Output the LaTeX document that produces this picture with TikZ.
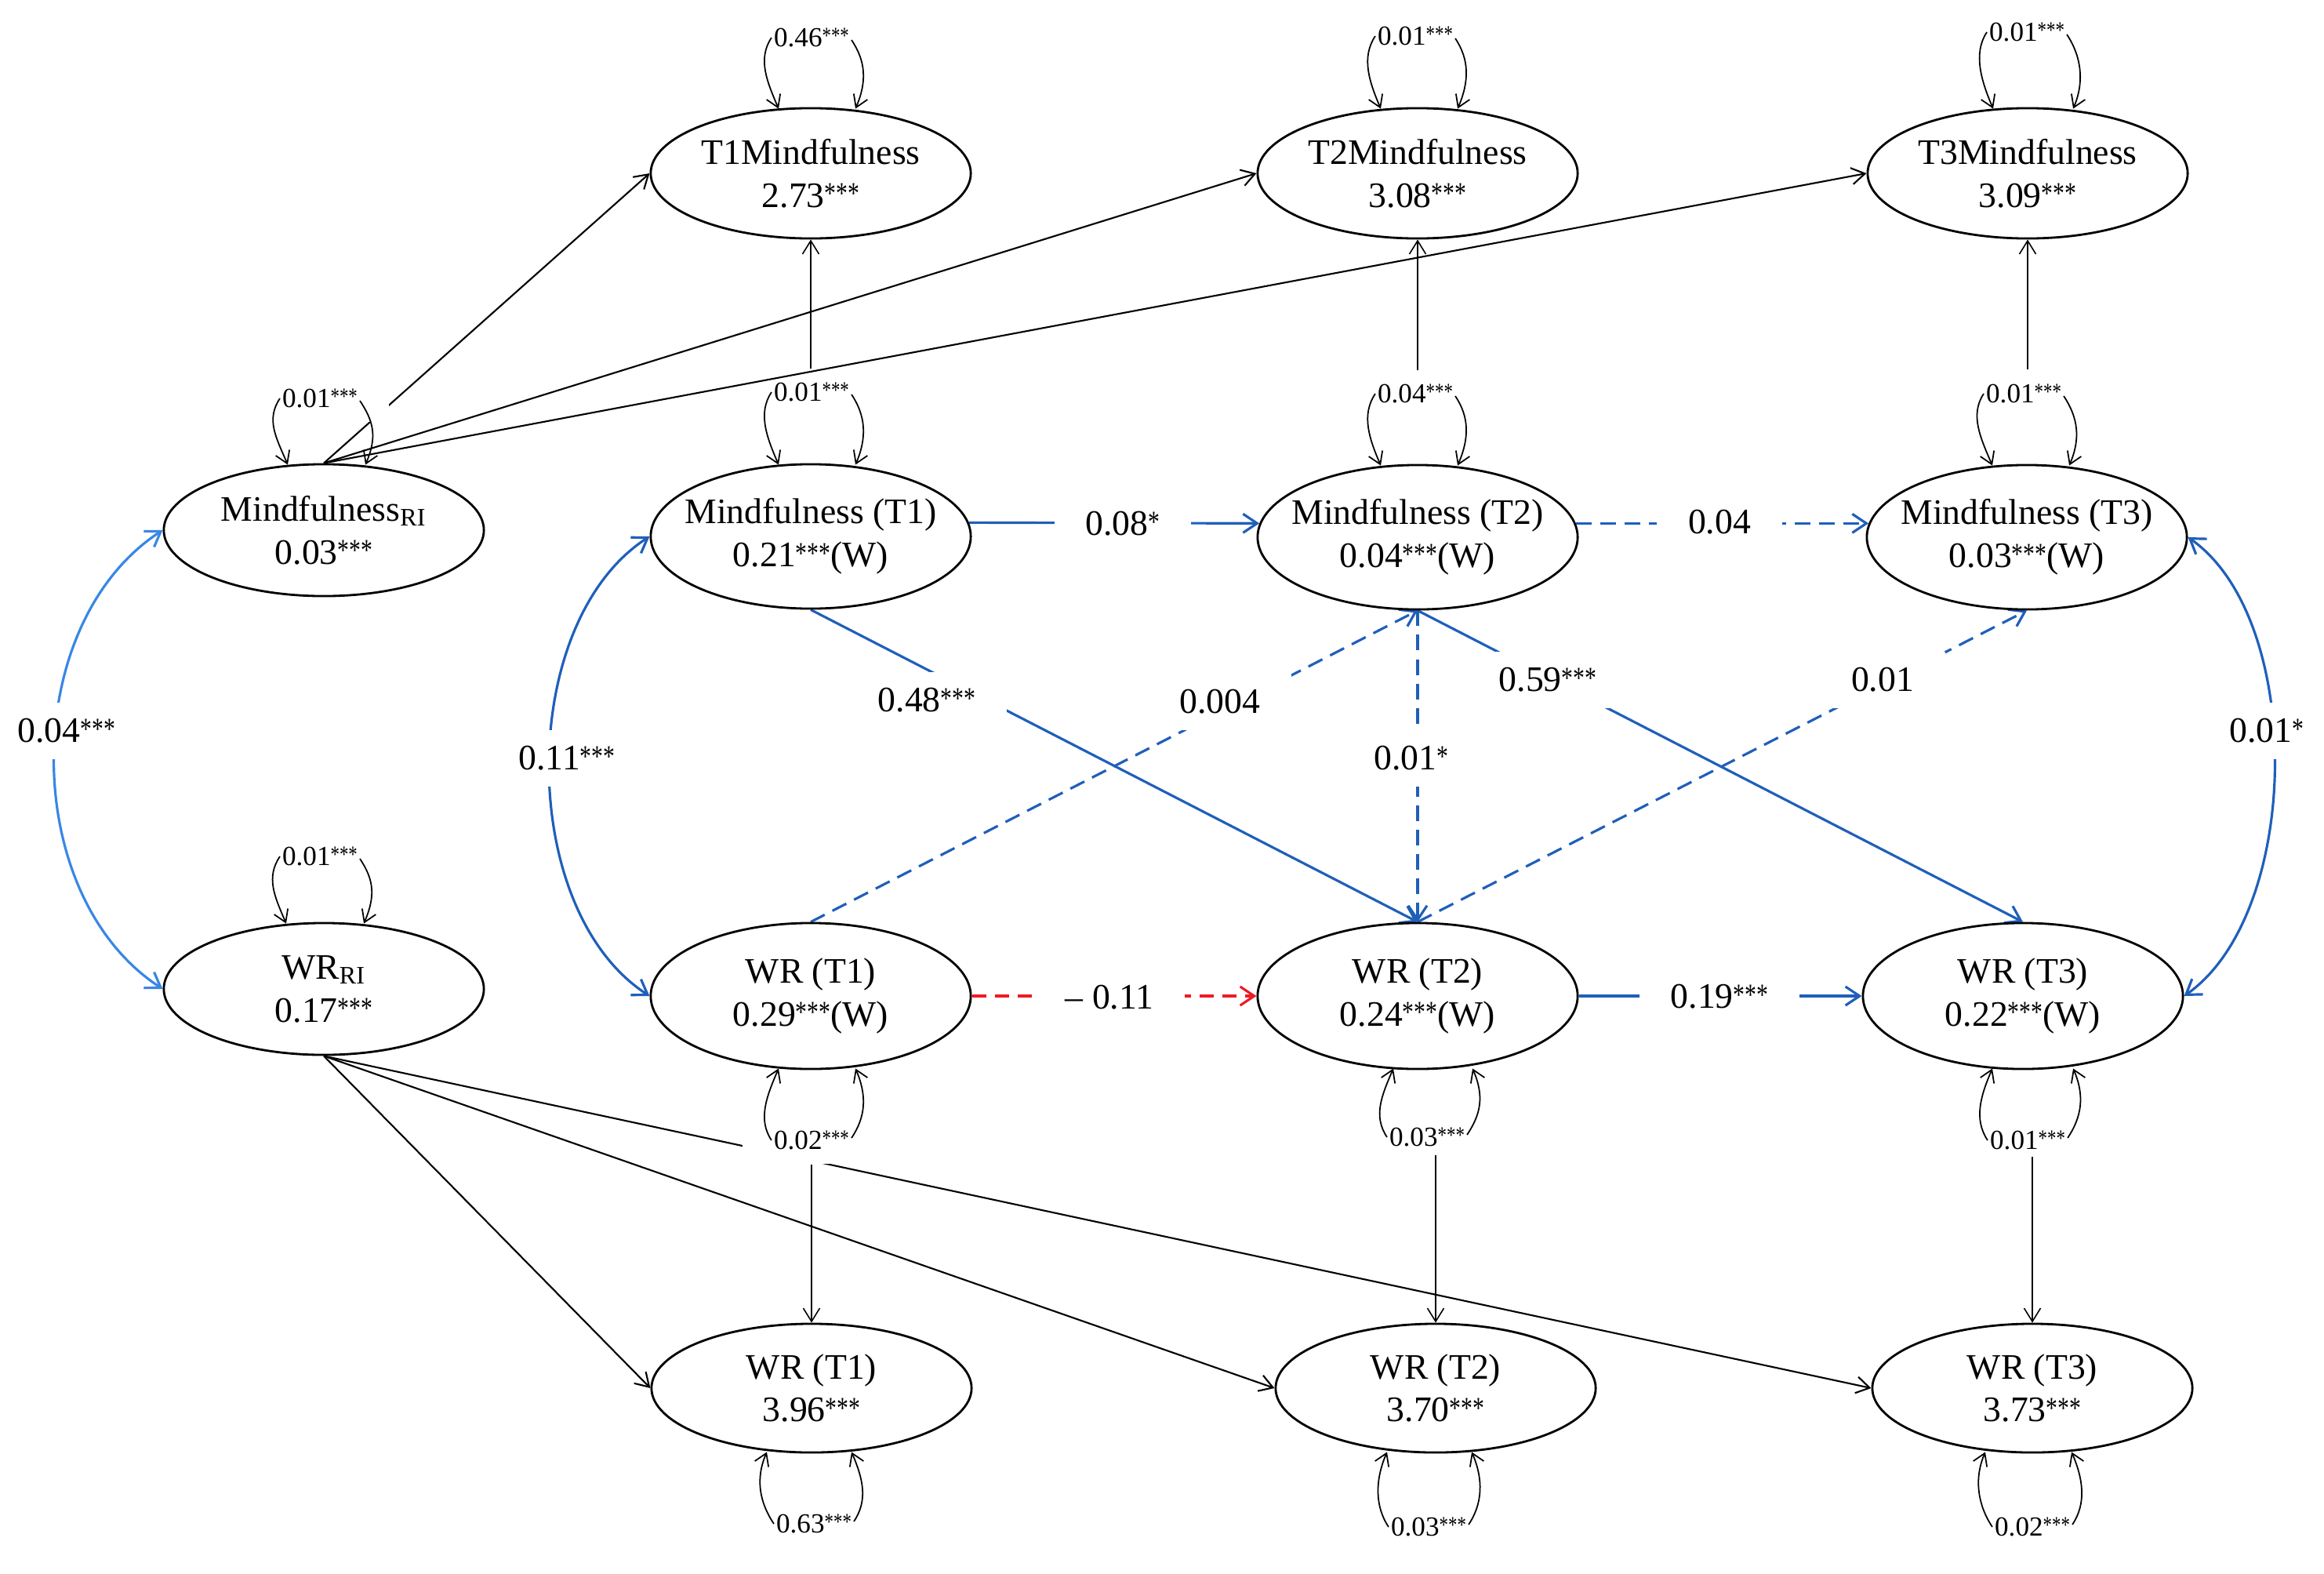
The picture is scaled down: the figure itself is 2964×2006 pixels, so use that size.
\documentclass[tikz,border=0pt]{standalone}
\usepackage{fontspec}
\setmainfont{Liberation Serif}
\usepackage{graphicx}
\usetikzlibrary{arrows.meta,shapes.geometric}
\pgfdeclarelayer{bg}
\pgfsetlayers{bg,main}
\definecolor{bdark}{RGB}{31,95,186}
\definecolor{blight}{RGB}{56,135,228}
\definecolor{rdash}{RGB}{238,28,36}
\newcommand\sg[1]{\raisebox{0.1em}{\scalebox{0.65}[0.85]{#1}}}
\newcommand\nodefont{\fontsize{13}{15.6}\selectfont}
\newcommand\loopfont{\fontsize{10}{12}\selectfont}
\tikzset{
 lat/.style={ellipse, draw, line width=0.8pt, fill=white, minimum width=4.08cm, minimum height=#1, inner xsep=-3mm, inner ysep=0pt, align=center, font=\nodefont},
 elab/.style={fill=white, inner xsep=4mm, inner ysep=2mm, font=\nodefont},
 vlab/.style={fill=white, inner xsep=0.5mm, inner ysep=0.2mm, font=\loopfont},
 wide/.style={inner xsep=4mm, inner ysep=1.8mm},
 vloop/.style={line width=0.5pt, -{Straight Barb[length=1.5mm,width=1.9mm]}},
 blk/.style={line width=0.6pt, -{Straight Barb[length=1.7mm,width=2.1mm]}},
 blkthin/.style={line width=0.45pt, -{Straight Barb[length=1.7mm,width=2.1mm]}},
 bsol/.style={bdark, line width=0.9pt, -{Straight Barb[length=1.8mm,width=2.4mm]}},
 bdsh/.style={bsol, dash pattern=on 2mm off 1.1mm},
 rdsh/.style={rdash, line width=0.9pt, dash pattern=on 1.8mm off 1.1mm, -{Straight Barb[length=1.8mm,width=2.4mm]}},
 bcov/.style={line width=0.9pt, {Straight Barb[length=1.8mm,width=2.4mm]}-{Straight Barb[length=1.8mm,width=2.4mm]}},
}
% [#1 label options] #2 ellipse node, #3 label name, #4 label position, #5 text, #6/#7 x offsets (mm)
\newcommand\looptop[7][]{%
  \node[vlab,#1] (#3) at (#4) {#5};
  \draw[vloop] ([xshift=-5.1mm]#3.center) .. controls +(-18,27) and +(-15,-35) .. ([xshift=#6mm,yshift=-0.2mm]#2.north);
  \draw[vloop] ([xshift=5.1mm,yshift=-0.3mm]#3.center) .. controls +(18,27) and +(15,-35) .. ([xshift=#7mm,yshift=-0.2mm]#2.north);
}
\newcommand\loopbot[7][]{%
  \node[vlab,#1] (#3) at (#4) {#5};
  \draw[vloop] ([xshift=-5.1mm]#3.center) .. controls +(-18,-27) and +(-15,35) .. ([xshift=#6mm,yshift=0.2mm]#2.south);
  \draw[vloop] ([xshift=5.1mm,yshift=0.3mm]#3.center) .. controls +(18,-27) and +(15,35) .. ([xshift=#7mm,yshift=0.2mm]#2.south);
}
\begin{document}
\begin{tikzpicture}[x=0.01cm,y=-0.01cm]
\useasboundingbox (0,0) rectangle (2964,2006);
% latent / observed ellipses
\node[lat=1.66cm] (t1) at (1034,221) {T1Mindfulness\\2.73\sg{***}};
\node[lat=1.66cm] (t2) at (1808,221) {T2Mindfulness\\3.08\sg{***}};
\node[lat=1.66cm] (t3) at (2586,221) {T3Mindfulness\\3.09\sg{***}};
\node[lat=1.68cm] (mri) at (413,676) {Mindfulness\textsubscript{RI}\\0.03\sg{***}};
\node[lat=1.84cm] (m1) at (1034,684) {Mindfulness (T1)\\0.21\sg{***}(W)};
\node[lat=1.84cm] (m2) at (1808,685) {Mindfulness (T2)\\0.04\sg{***}(W)};
\node[lat=1.84cm] (m3) at (2585,685) {Mindfulness (T3)\\0.03\sg{***}(W)};
\node[lat=1.68cm] (wri) at (413,1261) {WR\textsubscript{RI}\\0.17\sg{***}};
\node[lat=1.86cm] (w1) at (1034,1270) {WR (T1)\\0.29\sg{***}(W)};
\node[lat=1.86cm] (w2) at (1808,1270) {WR (T2)\\0.24\sg{***}(W)};
\node[lat=1.86cm] (w3) at (2580,1270) {WR (T3)\\0.22\sg{***}(W)};
\node[lat=1.64cm] (b1) at (1035,1770) {WR (T1)\\3.96\sg{***}};
\node[lat=1.64cm] (b2) at (1831,1770) {WR (T2)\\3.70\sg{***}};
\node[lat=1.64cm] (b3) at (2592,1770) {WR (T3)\\3.73\sg{***}};
% variance loops
\looptop{t1}{lt1}{1035,48}{0.46\sg{***}}{-4.1}{5.7}
\looptop{t2}{lt2}{1805,46}{0.01\sg{***}}{-4.7}{5.1}
\looptop{t3}{lt3}{2585,41}{0.01\sg{***}}{-4.4}{5.8}
\looptop[wide]{mri}{lmri}{408,508}{0.01\sg{***}}{-4.6}{5.3}
\looptop{m1}{lm1}{1035,500}{0.01\sg{***}}{-4.1}{5.7}
\looptop{m2}{lm2}{1805,502}{0.04\sg{***}}{-4.7}{5.1}
\looptop{m3}{lm3}{2581,502}{0.01\sg{***}}{-4.4}{5.4}
\looptop{wri}{lwri}{408,1092}{0.01\sg{***}}{-4.8}{5.1}
\loopbot[wide]{w1}{lw1}{1035,1454}{0.02\sg{***}}{-4.1}{5.7}
\loopbot{w2}{lw2}{1820,1450}{0.03\sg{***}}{-3.1}{7.0}
\loopbot{w3}{lw3}{2586,1454}{0.01\sg{***}}{-3.9}{6.4}
\loopbot{b1}{lb1}{1038,1943}{0.63\sg{***}}{-5.7}{5.1}
\loopbot{b2}{lb2}{1822,1947}{0.03\sg{***}}{-6.2}{4.6}
\loopbot{b3}{lb3}{2592,1947}{0.02\sg{***}}{-6.0}{5.0}
% path labels
\node[elab] (e1) at (85,932) {0.04\sg{***}};
\node[elab] (e2) at (723,967) {0.11\sg{***}};
\node[elab] (e3) at (1432,668) {0.08\sg{*}};
\node[elab] (e4) at (2193,666) {0.04};
\node[elab] (e5) at (1182,893) {0.48\sg{***}};
\node[elab] (e6) at (1556,895) {0.004};
\node[elab] (e7) at (1974,867) {0.59\sg{***}};
\node[elab] (e8) at (2401,867) {0.01};
\node[elab] (e9) at (1800,967) {0.01\sg{*}};
\node[elab] (e10) at (2891,932) {0.01\sg{*}};
\node[elab] (e11) at (1415,1272) {– 0.11};
\node[elab] (e12) at (2193,1271) {0.19\sg{***}};
% connectors
\begin{pgfonlayer}{bg}
\fill[white] (0,0) rectangle (2964,2006);
\draw[blk] (mri.north) -- (t1.west);
\draw[blk] (mri.north) -- (t2.west);
\draw[blk] (mri.north) -- (t3.west);
\draw[blkthin, shorten <=1.5mm] (t1.south |- lm1.north) -- (t1.south);
\draw[blkthin, shorten <=1.5mm] (t2.south |- lm2.north) -- (t2.south);
\draw[blkthin, shorten <=1.6mm] (t3.south |- lm3.north) -- (t3.south);
\draw[blk] (wri.south) -- (b1.west);
\draw[blk] (wri.south) -- (b2.west);
\draw[blk] (wri.south) -- (b3.west);
\draw[blkthin] (b1.north |- lw1.south) -- (b1.north);
\draw[blkthin, shorten <=0.8mm] (b2.north |- lw2.south) -- (b2.north);
\draw[blkthin, shorten <=0.6mm] (b3.north |- lw3.south) -- (b3.north);
\draw[bsol] (m1.5) -- (m2.175);
\draw[bdsh] (m2.5) -- (m3.175);
\draw[bsol] (m1.south) -- (w2.north);
\draw[bsol] (m2.south) -- (w3.north);
\draw[bdsh] (w1.north) -- (m2.south);
\draw[bdsh] (m2.south) -- (w2.north);
\draw[bdsh] (w2.north) -- (m3.south);
\draw[bsol] (w2.east) -- (w3.west);
\draw[rdsh] (w1.east) -- (w2.west);
\draw[bcov, blight] (mri.west) .. controls +(-184,120) and +(-184,-120) .. (wri.west);
\draw[bcov, bdark] (m1.west) .. controls +(-170,110) and +(-170,-110) .. (w1.west);
\draw[bcov, bdark] (m3.east) .. controls +(150,105) and +(150,-105) .. (w3.east);
\end{pgfonlayer}
\end{tikzpicture}
\end{document}
